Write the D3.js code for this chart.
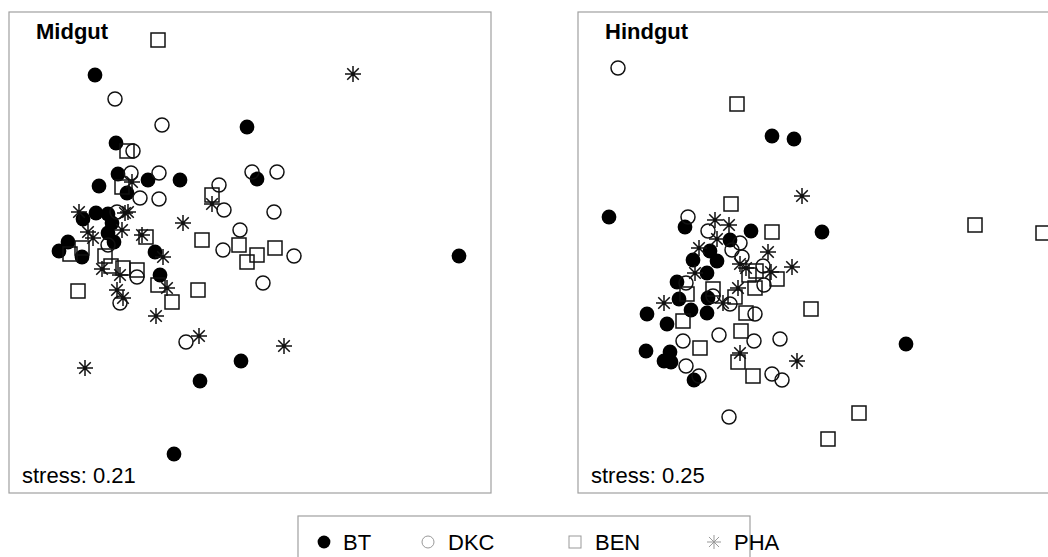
<!DOCTYPE html>
<html>
<head>
<meta charset="utf-8">
<script src="https://cdn.jsdelivr.net/npm/d3@7"></script>
<style>
  body { margin: 0; background: #fff; }
  svg { display: block; font-family: Arial, "Liberation Sans", sans-serif; }
</style>
</head>
<body>
<script>
// groups and panels
const groups = ['BT', 'DKC', 'BEN', 'PHA'];
const panels = ['Midgut', 'Hindgut'];
const stress = [0.21, 0.25];

// NMDS scores [NMDS1, NMDS2]
const midgutBT = [[-1.55, 1.75], [-0.03, 1.23], [-1.34, 1.07], [-1.32, 0.76], [-1.02, 0.70], [-0.70, 0.70],
  [-1.51, 0.64], [-1.23, 0.57], [0.07, 0.71], [-1.54, 0.37], [-1.42, 0.36], [-1.67, 0.31], [-1.38, 0.27],
  [-1.42, 0.17], [-1.36, 0.08], [-1.82, 0.08], [-1.91, -0.01], [-1.68, -0.07], [-0.95, -0.02], [-0.90, -0.25],
  [2.09, -0.06], [-0.09, -1.11], [-0.50, -1.31], [-0.76, -2.04]];
const midgutDKC = [[-1.35, 1.51], [-0.88, 1.25], [-1.17, 0.99], [-1.19, 0.77], [-0.91, 0.77], [-1.10, 0.52],
  [-0.91, 0.51], [-0.31, 0.65], [-0.26, 0.40], [0.02, 0.78], [0.27, 0.78], [0.24, 0.38], [-0.10, 0.20],
  [-0.27, 0.00], [0.44, -0.06], [0.13, -0.33], [-1.33, 0.38], [-1.42, 0.05], [-1.13, -0.27], [-1.30, -0.53],
  [-0.64, -0.92]];
const midgutBEN = [[-0.92, 2.10], [-1.23, 0.99], [-1.28, 0.63], [-0.38, 0.55], [-1.04, 0.13], [-0.48, 0.10],
  [-0.11, 0.05], [0.25, 0.02], [0.07, -0.05], [-0.03, -0.12], [-1.80, -0.04], [-1.68, 0.02], [-1.45, -0.06],
  [-1.39, -0.16], [-1.27, -0.18], [-1.13, -0.20], [-0.92, -0.35], [-0.78, -0.52], [-0.52, -0.40], [-1.72, -0.41]];
const midgutPHA = [[1.03, 1.76], [-1.18, 0.68], [-0.38, 0.46], [-1.71, 0.38], [-1.25, 0.37], [-1.22, 0.38],
  [-0.67, 0.27], [-1.28, 0.20], [-1.62, 0.18], [-1.57, 0.12], [-1.08, 0.15], [-0.87, -0.07], [-1.48, -0.19],
  [-1.30, -0.25], [-1.33, -0.40], [-1.27, -0.48], [-0.83, -0.38], [-0.94, -0.66], [-0.51, -0.86], [0.34, -0.96],
  [-1.65, -1.18]];

const hindgutBT = [[-0.47, 1.14], [-0.25, 1.11], [-2.10, 0.33], [-1.34, 0.23], [-0.68, 0.19], [0.03, 0.18],
  [-0.89, 0.10], [-1.09, -0.01], [-1.26, -0.10], [-1.02, -0.11], [-1.12, -0.23], [-1.42, -0.32], [-1.11, -0.48],
  [-1.40, -0.49], [-1.72, -0.64], [-1.28, -0.60], [-1.12, -0.63], [-1.52, -0.74], [-1.73, -1.01], [-1.49, -1.02],
  [-1.55, -1.11], [-1.48, -1.12], [-1.25, -1.30], [0.87, -0.94]];
const hindgutDKC = [[-2.01, 1.82], [-1.31, 0.33], [-1.11, 0.19], [-0.79, 0.07], [-0.87, 0.00], [-0.77, -0.07],
  [-0.56, -0.16], [-0.55, -0.35], [-1.33, -0.33], [-1.06, -0.46], [-0.89, -0.54], [-0.64, -0.64], [-1.36, -0.91],
  [-1.00, -0.85], [-0.65, -0.91], [-0.39, -0.89], [-1.33, -1.16], [-0.47, -1.24], [-0.37, -1.30], [-1.20, -1.26],
  [-0.90, -1.67]];
const hindgutBEN = [[-0.82, 1.46], [-0.88, 0.46], [-0.47, 0.18], [1.56, 0.25], [2.24, 0.17], [-0.63, -0.21],
  [-0.70, -0.25], [-0.42, -0.29], [-0.64, -0.38], [-1.06, -0.39], [-1.32, -0.44], [-0.84, -0.47], [-0.73, -0.63],
  [-1.36, -0.71], [-0.08, -0.59], [-0.78, -0.81], [-1.19, -0.98], [-0.81, -1.12], [-0.66, -1.26], [0.40, -1.63],
  [0.09, -1.89]];
const hindgutPHA = [[-0.17, 0.54], [-1.04, 0.30], [-0.90, 0.25], [-1.02, 0.11], [-1.20, 0.02], [-0.51, -0.02],
  [-0.79, -0.14], [-0.73, -0.18], [-0.48, -0.22], [-0.27, -0.17], [-1.24, -0.23], [-0.81, -0.38], [-1.55, -0.53],
  [-0.96, -0.53], [-0.79, -1.03], [-0.22, -1.11]];

const panelData = [
  [midgutBT, midgutDKC, midgutBEN, midgutPHA],
  [hindgutBT, hindgutDKC, hindgutBEN, hindgutPHA]
];

const width = 1048, height = 557;
const box = {w: 482, h: 481, top: 12};
const panelLeft = [9, 578];

const svg = d3.select('body').append('svg')
  .attr('width', width)
  .attr('height', height);

const x = d3.scaleLinear().domain([-2.41, 2.41]).range([0, box.w]);
const y = d3.scaleLinear().domain([-2.43, 2.38]).range([box.h, 0]);

// R-like plotting symbols
function asterisk(s) {
  const d = s * 0.72;
  return `M0,${-s}V${s}M${-s},0H${s}M${-d},${-d}L${d},${d}M${-d},${d}L${d},${-d}`;
}

function marker(g, group, r, col, sw) {
  if (group === 'BT') {
    g.append('circle').attr('r', r + 0.4).attr('fill', '#000');
  } else if (group === 'DKC') {
    g.append('circle').attr('r', r).attr('fill', 'none')
      .attr('stroke', col).attr('stroke-width', sw);
  } else if (group === 'BEN') {
    g.append('rect').attr('x', -r).attr('y', -r).attr('width', 2 * r).attr('height', 2 * r)
      .attr('fill', 'none').attr('stroke', col).attr('stroke-width', sw);
  } else {
    g.append('path').attr('d', asterisk(r + 1)).attr('fill', 'none')
      .attr('stroke', col).attr('stroke-width', sw);
  }
}

panels.forEach((name, i) => {
  const p = svg.append('g')
    .attr('transform', `translate(${panelLeft[i]}, ${box.top})`);

  p.append('clipPath').attr('id', `clip${i}`)
    .append('rect').attr('width', box.w).attr('height', box.h);

  const plot = p.append('g').attr('clip-path', `url(#clip${i})`);

  groups.forEach((grp, k) => {
    plot.selectAll(`.pt-${grp}`)
      .data(panelData[i][k])
      .enter().append('g')
      .attr('class', `pt-${grp}`)
      .attr('transform', (d) => `translate(${x(d[0])}, ${y(d[1])})`)
      .each(function() { marker(d3.select(this), grp, 7, '#111', 1.5); });
  });

  p.append('rect')
    .attr('width', box.w).attr('height', box.h)
    .attr('fill', 'none').attr('stroke', '#a0a0a0').attr('stroke-width', 1.2);

  p.append('text')
    .attr('x', 27).attr('y', 27)
    .attr('font-size', 22).attr('font-weight', 'bold')
    .text(name);

  p.append('text')
    .attr('x', 13).attr('y', 471)
    .attr('font-size', 22)
    .text(`stress: ${stress[i].toFixed(2)}`);
});

// legend
const legend = svg.append('g');
legend.append('rect')
  .attr('x', 298).attr('y', 516).attr('width', 452).attr('height', 60)
  .attr('fill', 'none').attr('stroke', '#a0a0a0').attr('stroke-width', 1.2);

const legendX = [324, 428, 575, 714];
groups.forEach((grp, k) => {
  const item = legend.append('g').attr('transform', `translate(${legendX[k]}, 542)`);
  marker(item, grp, 6, '#999', 1);
  item.append('text')
    .attr('x', k === 0 ? 19 : 20).attr('y', 8)
    .attr('font-size', 22)
    .text(grp);
});
</script>
</body>
</html>
